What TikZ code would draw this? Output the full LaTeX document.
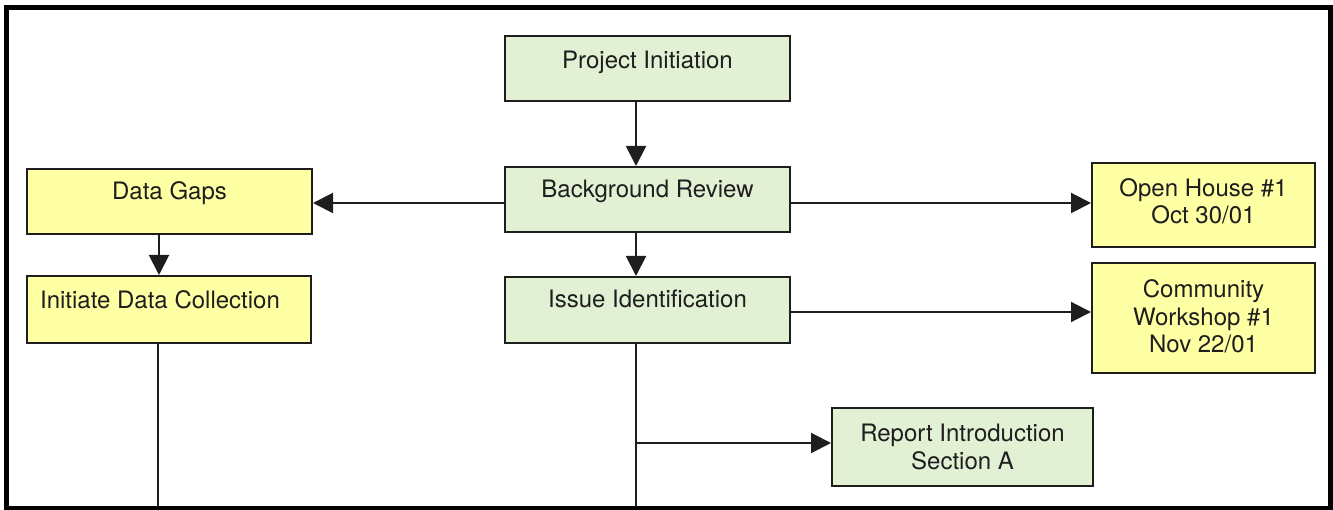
\documentclass[tikz,border=0pt]{standalone}
\usepackage{fontspec}
\setmainfont{TeX Gyre Heros}
\usetikzlibrary{arrows.meta}
\definecolor{gfill}{RGB}{226,240,212}
\definecolor{yfill}{RGB}{255,255,164}
\definecolor{ink}{RGB}{30,30,30}
\tikzset{
  box/.style={draw=ink, line width=2pt, inner sep=0pt, anchor=center},
  gbox/.style={box, fill=gfill},
  ybox/.style={box, fill=yfill},
  lbl/.style={inner sep=0pt, text=ink, font=\fontsize{24}{27.5}\selectfont, align=center},
  conn/.style={draw=ink, line width=2pt},
  arr/.style={conn, -{Triangle[length=20pt,width=20pt]}},
}
\begin{document}
\begin{tikzpicture}[x=1pt, y=-1pt]
\useasboundingbox (0,0) rectangle (1333,510);
\draw[line width=5pt, black] (6,7.5) rectangle (1330,508);

% boxes
\node[gbox, minimum width=285pt, minimum height=65pt] (proj) at (647.5,68.5) {};
\node[gbox, minimum width=285pt, minimum height=65pt] (bg) at (647.5,199.5) {};
\node[gbox, minimum width=285pt, minimum height=66pt] (issue) at (647.5,310) {};
\node[ybox, minimum width=285pt, minimum height=65pt] (gaps) at (169.5,201.5) {};
\node[ybox, minimum width=284pt, minimum height=67pt] (init) at (169,309.5) {};
\node[ybox, minimum width=223pt, minimum height=84pt] (open) at (1203.5,205) {};
\node[ybox, minimum width=223pt, minimum height=110pt] (comm) at (1203.5,318) {};
\node[gbox, minimum width=261pt, minimum height=78pt] (report) at (962.5,447) {};

% labels
\node[lbl, anchor=base] (tproj) at (647.5,68.3) {Project Initiation};
\node[lbl, anchor=base] (tbg) at (647.5,197.5) {Background Review};
\node[lbl, anchor=base] (tissue) at (647.5,307.7) {Issue Identification};
\node[lbl, anchor=base] (tgaps) at (169.5,200) {Data Gaps};
\node[lbl, anchor=base] (tinit) at (160,308.3) {Initiate Data Collection};
\node[lbl, anchor=north] (topen) at (1203.5,178) {Open House \#1\\Oct 30/01};
\node[lbl, anchor=north] (tcomm) at (1203.5,279.5) {Community\\Workshop \#1\\Nov 22/01};
\node[lbl, anchor=north] (treport) at (962.5,424) {Report Introduction\\Section A};

% helper coordinates
\coordinate (cx) at (636,0);
\coordinate (lx) at (159,0);
\coordinate (lx2) at (158,0);
\coordinate (bot) at (0,507);
\coordinate (br) at (636,443);

% connectors
\draw[arr] (proj.south -| cx) -- (bg.north -| cx);
\draw[arr] (bg.south -| cx) -- (issue.north -| cx);
\draw[arr] (bg.west |- 0,203) -- (gaps.east |- 0,203);
\draw[arr] (bg.east |- 0,203) -- (open.west |- 0,203);
\draw[arr] (issue.east |- 0,312) -- (comm.west |- 0,312);
\draw[conn] (issue.south -| cx) -- (bot -| cx);
\draw[arr] (br) -- (report.west |- br);
\draw[arr] (gaps.south -| lx) -- (init.north -| lx);
\draw[conn] (init.south -| lx2) -- (bot -| lx2);
\end{tikzpicture}
\end{document}
